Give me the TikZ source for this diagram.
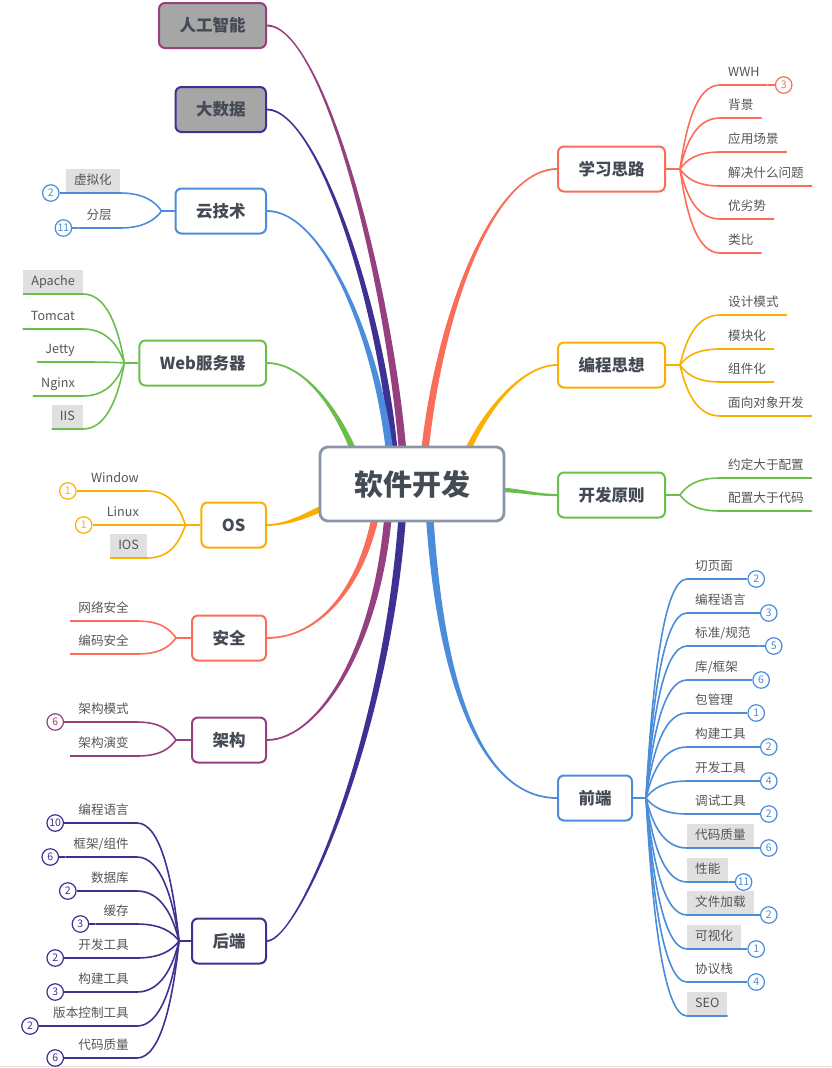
\documentclass[tikz,border=0pt]{standalone}
\usepackage{fontspec}
\setmainfont{Noto Sans CJK SC}
\usepackage{tikz}
\usetikzlibrary{calc,backgrounds}
\definecolor{coralC}{HTML}{FA6E59}
\definecolor{amberC}{HTML}{FBB000}
\definecolor{greenC}{HTML}{6ABF4B}
\definecolor{blueC}{HTML}{4C8DDB}
\definecolor{indigoC}{HTML}{3E3194}
\definecolor{purpleC}{HTML}{96407F}
\definecolor{rootC}{HTML}{8A96A8}
\definecolor{topicText}{HTML}{454B55}
\definecolor{leafText}{HTML}{555555}
\definecolor{boxGray}{HTML}{E0E0E0}
\definecolor{topicGray}{HTML}{A6A6A6}
% tapered branch: colour, start, control 1, control 2, end, start half width, end half width
\newcommand\trunk[7]{\fill[#1] ($#2+#6$) .. controls ($#3+#6$) and ($#4+#7$) .. ($#5+#7$)
  -- ($#5-#7$) .. controls ($#4-#7$) and ($#3-#6$) .. ($#2-#6$) -- cycle;}

\begin{document}
\begin{tikzpicture}[x=1pt,y=-1pt,
rootbox/.style={draw=rootC,line width=2.8pt,rounded corners=8pt,fill=white,
    minimum width=184pt,minimum height=74pt,text=topicText,
    font=\fontsize{29}{32}\selectfont\bfseries},
topic/.style={draw=#1,line width=2pt,rounded corners=6pt,fill=white,text=topicText,
    minimum height=45pt,inner xsep=20.5pt,font=\fontsize{16.5}{18}\selectfont\bfseries},
leaf/.style={text=leafText,inner xsep=8pt,inner ysep=6pt,text height=9.5pt,
    text depth=2.5pt,font=\fontsize{12.6}{14}\selectfont},
badge/.style={circle,draw=#1,text=#1,fill=white,line width=1.2pt,minimum size=16.5pt,
    inner sep=0pt,font=\fontsize{10.5}{11}\selectfont},
stub/.style={draw=#1,line width=2.6pt},
twig/.style={draw=#1,line width=1.6pt}
]
\useasboundingbox (0,0) rectangle (831,1068);
\draw[black!12,line width=1pt] (0,1066) -- (831,1066);

\node[rootbox] (root) at (412,484) {软件开发};
\node[topic=purpleC,fill=topicGray,anchor=east] (ai) at (267,25.5) {人工智能};
\node[topic=indigoC,fill=topicGray,anchor=east] (bd) at (267,109.5) {大数据};
\node[topic=blueC,anchor=east] (ct) at (267,211) {云技术};
\node[topic=greenC,anchor=east] (web) at (267,363) {Web服务器};
\node[topic=amberC,anchor=east] (os) at (267,525) {OS};
\node[topic=coralC,anchor=east] (aq) at (267,638) {安全};
\node[topic=purpleC,anchor=east] (jg) at (267,740) {架构};
\node[topic=indigoC,anchor=east] (hd) at (267,941) {后端};
\node[topic=coralC,anchor=west] (xx) at (557,169) {学习思路};
\node[topic=amberC,anchor=west] (bc) at (557,365) {编程思想};
\node[topic=greenC,anchor=west] (yz) at (557,495) {开发原则};
\node[topic=blueC,anchor=west] (qd) at (557,798) {前端};

\begin{scope}[on background layer]
\trunk{purpleC}{(root.center)+(-7,0)}{(root.center)+(-17,-184)}{(ai.east)+(58,0)}{(ai.east)}{(3.8,0)}{(0,-0.9)}
\trunk{indigoC}{(root.center)+(-16,0)}{(root.center)+(-22,-154)}{(bd.east)+(53,0)}{(bd.east)}{(3.8,0)}{(0,-0.9)}
\trunk{blueC}{(root.center)+(-20,0)}{(root.center)+(-24,-114)}{(ct.east)+(63,0)}{(ct.east)}{(3.8,0)}{(0,-0.9)}
\trunk{greenC}{(root.center)+(-48,0)}{(root.center)+(-57,-44)}{(web.east)+(48,0)}{(web.east)}{(3.8,0)}{(0,-0.9)}
\trunk{amberC}{(root.center)+(-67,13)}{(root.center)+(-97,28)}{(os.east)+(23,0)}{(os.east)}{(1.6,3.3)}{(0,0.9)}
\trunk{coralC}{(root.center)+(-32,0)}{(root.center)+(-40,91)}{(aq.east)+(58,0)}{(aq.east)}{(3.8,0)}{(0,0.9)}
\trunk{purpleC}{(root.center)+(-22,0)}{(root.center)+(-27,156)}{(jg.east)+(53,0)}{(jg.east)}{(3.8,0)}{(0,0.9)}
\trunk{indigoC}{(root.center)+(-8,0)}{(root.center)+(-17,236)}{(hd.east)+(33,0)}{(hd.east)}{(3.8,0)}{(0,0.9)}
\trunk{coralC}{(root.center)+(10,0)}{(root.center)+(20,-154)}{(xx.west)+(-67,0)}{(xx.west)}{(3.8,0)}{(0,0.9)}
\trunk{amberC}{(root.center)+(43,0)}{(root.center)+(58,-54)}{(bc.west)+(-42,0)}{(bc.west)}{(3.8,0)}{(0,0.9)}
\trunk{greenC}{(root.center)+(68,5)}{(root.center)+(108,5)}{(yz.west)+(-27,0)}{(yz.west)}{(0,2.4)}{(0,1.1)}
\trunk{blueC}{(root.center)+(16,0)}{(root.center)+(24,196)}{(qd.west)+(-77,0)}{(qd.west)}{(3.8,0)}{(0,-0.9)}
\end{scope}

% left side
\coordinate (ctF) at ($(ct.west)+(-13,0)$);
\draw[stub=blueC] (ct.west) -- (ctF);
\foreach \y/\lbl/\f in {193/虚拟化/boxGray,228/分层/none}{
  \node[leaf,fill=\f,anchor=south east] (ct\y) at (120,\y) {\lbl};
  \draw[twig=blueC] (ctF) .. controls ($(ctF)!.5!(ctF|-ct\y.south east)+(-6,0)$) and ($(ct\y.south east)+(24,0)$) .. (ct\y.south east) -- (ct\y.south west);
}
\foreach \y/\b in {193/2,228/11}{
  \node[badge=blueC] (ctb\y) at ($(ct\y.south west)+(-15,0)$) {\b};
  \draw[twig=blueC] (ct\y.south west) -- (ctb\y);
}

\coordinate (webF) at ($(web.west)+(-14,0)$);
\draw[stub=greenC] (web.west) -- (webF);
\foreach \y/\lbl/\f in {294/Apache/boxGray,329/Tomcat/none,362/Jetty/none,396/Nginx/none,429/IIS/boxGray}{
  \node[leaf,fill=\f,anchor=south east] (web\y) at (83,\y) {\lbl};
  \draw[twig=greenC] (webF) .. controls ($(webF)!.5!(webF|-web\y.south east)+(-6,0)$) and ($(web\y.south east)+(24,0)$) .. (web\y.south east) -- (web\y.south west);
}

\coordinate (osF) at ($(os.west)+(-15,0)$);
\draw[stub=amberC] (os.west) -- (osF);
\foreach \y/\lbl/\f in {491/Window/none,525/Linux/none,558/IOS/boxGray}{
  \node[leaf,fill=\f,anchor=south east] (os\y) at (147,\y) {\lbl};
  \draw[twig=amberC] (osF) .. controls ($(osF)!.5!(osF|-os\y.south east)+(-6,0)$) and ($(os\y.south east)+(24,0)$) .. (os\y.south east) -- (os\y.south west);
}
\foreach \y/\b in {491/1,525/1}{
  \node[badge=amberC] (osb\y) at ($(os\y.south west)+(-15,0)$) {\b};
  \draw[twig=amberC] (os\y.south west) -- (osb\y);
}

\coordinate (aqF) at ($(aq.west)+(-15,0)$);
\draw[stub=coralC] (aq.west) -- (aqF);
\foreach \y/\lbl in {621/网络安全,654/编码安全}{
  \node[leaf,anchor=south east] (aq\y) at (137,\y) {\lbl};
  \draw[twig=coralC] (aqF) .. controls ($(aqF)!.5!(aqF|-aq\y.south east)+(-6,0)$) and ($(aq\y.south east)+(24,0)$) .. (aq\y.south east) -- (aq\y.south west);
}

\coordinate (jgF) at ($(jg.west)+(-15,0)$);
\draw[stub=purpleC] (jg.west) -- (jgF);
\foreach \y/\lbl in {722/架构模式,756/架构演变}{
  \node[leaf,anchor=south east] (jg\y) at (137,\y) {\lbl};
  \draw[twig=purpleC] (jgF) .. controls ($(jgF)!.5!(jgF|-jg\y.south east)+(-6,0)$) and ($(jg\y.south east)+(24,0)$) .. (jg\y.south east) -- (jg\y.south west);
}
\node[badge=purpleC] (jgb722) at ($(jg722.south west)+(-15,0)$) {6};
\draw[twig=purpleC] (jg722.south west) -- (jgb722);

\coordinate (hdF) at ($(hd.west)+(-12,0)$);
\draw[stub=indigoC] (hd.west) -- (hdF);
\foreach \y/\lbl/\b in {823/编程语言/10,857/{框架/组件}/6,891/数据库/2,924/缓存/3,958/开发工具/2,992/构建工具/3,1026/版本控制工具/2,1058/代码质量/6}{
  \node[leaf,anchor=south east] (hd\y) at (137,\y) {\lbl};
  \draw[twig=indigoC] (hdF) .. controls ($(hdF)!.5!(hdF|-hd\y.south east)+(-6,0)$) and ($(hd\y.south east)+(24,0)$) .. (hd\y.south east) -- (hd\y.south west);
  \node[badge=indigoC] (hdb\y) at ($(hd\y.south west)+(-15,0)$) {\b};
  \draw[twig=indigoC] (hd\y.south west) -- (hdb\y);
}

% right side
\coordinate (xxF) at ($(xx.east)+(14,0)$);
\draw[stub=coralC] (xx.east) -- (xxF);
\foreach \y/\lbl in {85/WWH,118/背景,152/应用场景,186/解决什么问题,219/优劣势,253/类比}{
  \node[leaf,anchor=south west] (xx\y) at (720,\y) {\lbl};
  \draw[twig=coralC] (xxF) .. controls ($(xxF)!.5!(xxF|-xx\y.south west)+(6,0)$) and ($(xx\y.south west)+(-24,0)$) .. (xx\y.south west) -- (xx\y.south east);
}
\node[badge=coralC] (xxb85) at ($(xx85.south east)+(16,0)$) {3};
\draw[twig=coralC] (xx85.south east) -- (xxb85);

\coordinate (bcF) at ($(bc.east)+(14,0)$);
\draw[stub=amberC] (bc.east) -- (bcF);
\foreach \y/\lbl in {315/设计模式,349/模块化,382/组件化,416/面向对象开发}{
  \node[leaf,anchor=south west] (bc\y) at (720,\y) {\lbl};
  \draw[twig=amberC] (bcF) .. controls ($(bcF)!.5!(bcF|-bc\y.south west)+(6,0)$) and ($(bc\y.south west)+(-24,0)$) .. (bc\y.south west) -- (bc\y.south east);
}

\coordinate (yzF) at ($(yz.east)+(14,0)$);
\draw[stub=greenC] (yz.east) -- (yzF);
\foreach \y/\lbl in {478/约定大于配置,511/配置大于代码}{
  \node[leaf,anchor=south west] (yz\y) at (720,\y) {\lbl};
  \draw[twig=greenC] (yzF) .. controls ($(yzF)!.5!(yzF|-yz\y.south west)+(6,0)$) and ($(yz\y.south west)+(-24,0)$) .. (yz\y.south west) -- (yz\y.south east);
}

\coordinate (qdF) at ($(qd.east)+(13,0)$);
\draw[stub=blueC] (qd.east) -- (qdF);
\foreach \y/\lbl/\f in {579/切页面/none,613/编程语言/none,646/{标准/规范}/none,680/{库/框架}/none,713/包管理/none,747/构建工具/none,781/开发工具/none,814/调试工具/none,848/代码质量/boxGray,882/性能/boxGray,915/文件加载/boxGray,949/可视化/boxGray,982/协议栈/none,1016/SEO/boxGray}{
  \node[leaf,fill=\f,anchor=south west] (qd\y) at (687,\y) {\lbl};
  \draw[twig=blueC] (qdF) .. controls ($(qdF)!.5!(qdF|-qd\y.south west)+(6,0)$) and ($(qd\y.south west)+(-24,0)$) .. (qd\y.south west) -- (qd\y.south east);
}
\foreach \y/\b in {579/2,613/3,646/5,680/6,713/1,747/2,781/4,814/2,848/6,882/11,915/2,949/1,982/4}{
  \node[badge=blueC] (qdb\y) at ($(qd\y.south east)+(15,0)$) {\b};
  \draw[twig=blueC] (qd\y.south east) -- (qdb\y);
}
\end{tikzpicture}
\end{document}
